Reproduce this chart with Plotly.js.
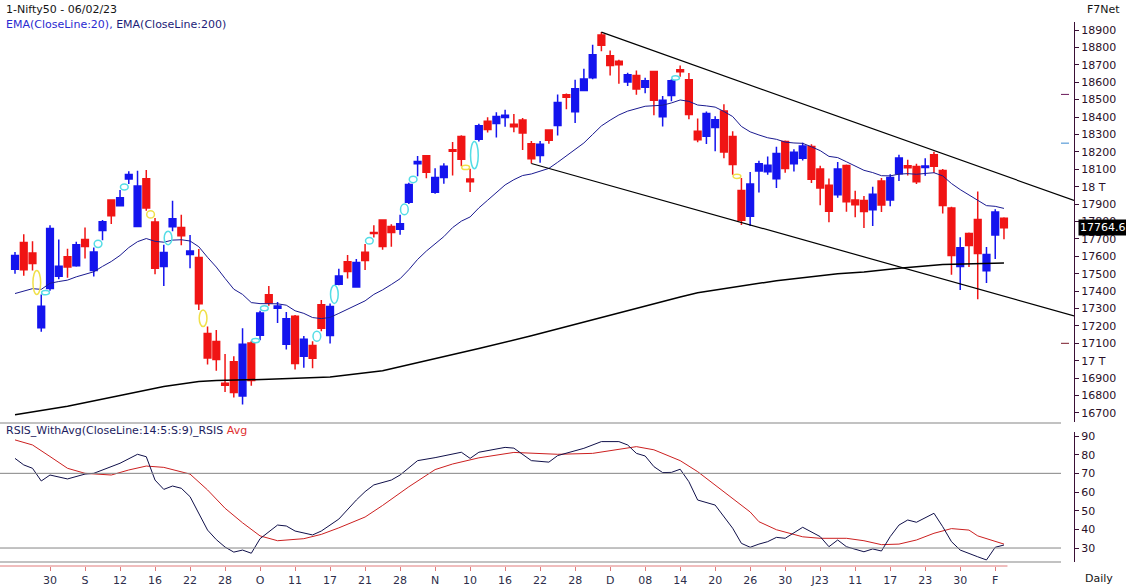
<!DOCTYPE html>
<html><head><meta charset="utf-8">
<script src="https://cdn.plot.ly/plotly-3.0.1.min.js"></script>
<style>html,body{margin:0;padding:0;background:#fff;}#chart{width:1126px;height:587px;}</style>
</head><body><div id="chart"></div>
<script>
// ---------------- DATA ----------------
const dates = ['2022-08-24','2022-08-25','2022-08-26','2022-08-29','2022-08-30',
'2022-09-01','2022-09-02','2022-09-05','2022-09-06','2022-09-07','2022-09-08','2022-09-09','2022-09-12','2022-09-13','2022-09-14','2022-09-15','2022-09-16','2022-09-19','2022-09-20','2022-09-21','2022-09-22','2022-09-23','2022-09-26','2022-09-27','2022-09-28','2022-09-29','2022-09-30',
'2022-10-03','2022-10-04','2022-10-06','2022-10-07','2022-10-10','2022-10-11','2022-10-12','2022-10-13','2022-10-14','2022-10-17','2022-10-18','2022-10-19','2022-10-20','2022-10-21','2022-10-24','2022-10-25','2022-10-27','2022-10-28','2022-10-31',
'2022-11-01','2022-11-02','2022-11-03','2022-11-04','2022-11-07','2022-11-09','2022-11-10','2022-11-11','2022-11-14','2022-11-15','2022-11-16','2022-11-17','2022-11-18','2022-11-21','2022-11-22','2022-11-23','2022-11-24','2022-11-25','2022-11-28','2022-11-29','2022-11-30',
'2022-12-01','2022-12-02','2022-12-05','2022-12-06','2022-12-07','2022-12-08','2022-12-09','2022-12-12','2022-12-13','2022-12-14','2022-12-15','2022-12-16','2022-12-19','2022-12-20','2022-12-21','2022-12-22','2022-12-23','2022-12-26','2022-12-27','2022-12-28','2022-12-29','2022-12-30',
'2023-01-02','2023-01-03','2023-01-04','2023-01-05','2023-01-06','2023-01-09','2023-01-10','2023-01-11','2023-01-12','2023-01-13','2023-01-16','2023-01-17','2023-01-18','2023-01-19','2023-01-20','2023-01-23','2023-01-24','2023-01-25','2023-01-27','2023-01-30','2023-01-31',
'2023-02-01','2023-02-02','2023-02-03','2023-02-06'];

const open = [17525,17679,17619,17189,17415,
17486,17598,17546,17696,17519,17748,17923,17891,18044,17771,18046,17797,17541,17770,17766,17610,17593,17156,17111,16871,16994,16798,
17102,17147,17379,17301,17094,17256,17026,17087,17322,17145,17439,17568,17423,17623,17736,17808,17771,17756,17910,
18131,18178,17968,18053,18212,18288,18044,18272,18376,18363,18398,18359,18383,18246,18179,18325,18351,18528,18431,18552,18626,
18872,18752,18720,18601,18639,18571,18662,18402,18524,18671,18614,18319,18289,18340,18435,18288,17978,17830,18090,18085,18046,18259,
18132,18163,18231,18102,18008,17953,18121,17924,17921,17868,18033,17923,18074,18120,18116,18110,18184,18093,17877,17542,17731,
17812,17517,17722,17819];

const high = [17625,17727,17686,17380,17778,
17696,17644,17683,17765,17651,17808,17926,17981,18088,18092,18096,17820,17667,17919,17839,17723,17642,17196,17176,17038,17026,17187,
17115,17287,17429,17337,17280,17262,17142,17112,17349,17329,17528,17608,17584,17670,17778,17812,17784,17839,18023,
18176,18179,18106,18135,18256,18296,18103,18362,18399,18428,18442,18418,18395,18262,18262,18325,18530,18535,18614,18678,18816,
18888,18782,18729,18655,18668,18625,18665,18521,18617,18696,18653,18392,18432,18405,18473,18319,18050,18084,18149,18173,18230,18265,
18215,18252,18243,18120,18047,18141,18128,17976,17946,17999,18050,18072,18184,18155,18132,18163,18201,18101,17885,17709,17736,
17972,17654,17870,17824];

const low = [17500,17488,17519,17166,17402,
17468,17476,17540,17588,17484,17692,17786,17889,18015,17771,17861,17497,17430,17744,17664,17532,17292,16978,16942,16820,16789,16748,
16856,17117,17316,17217,17065,16950,16960,16957,17170,17099,17434,17473,17421,17521,17708,17637,17655,17724,17900,
18060,18049,17959,18017,18064,18118,17969,18259,18311,18282,18344,18312,18210,18133,18138,18246,18294,18445,18366,18552,18617,
18778,18639,18591,18578,18528,18537,18410,18346,18490,18632,18388,18255,18245,18203,18163,18069,17780,17774,17967,18068,17993,18080,
18087,18150,18021,17893,17796,17936,17856,17824,17762,17774,17854,17887,18032,18064,18016,18063,18079,17846,17494,17406,17538,
17353,17446,17584,17698];

const close = [17605,17522,17559,17313,17759,
17543,17539,17666,17656,17624,17799,17833,17936,18070,18004,17877,17531,17622,17816,17718,17630,17327,17016,17007,16859,16818,17094,
16887,17274,17332,17315,17241,16984,17124,17014,17186,17312,17487,17512,17564,17576,17731,17656,17737,17787,18012,
18145,18083,18053,18117,18203,18157,18028,18350,18329,18403,18410,18344,18308,18160,18244,18267,18484,18513,18563,18618,18758,
18812,18696,18701,18643,18561,18609,18497,18497,18608,18660,18415,18269,18420,18385,18199,18127,17807,18015,18132,18123,18191,18105,
18197,18233,18043,17992,17859,18101,17914,17896,17858,17957,17895,18053,18165,18108,18028,18119,18118,17892,17604,17649,17662,
17616,17610,17854,17764.6];

// EMA(20) read per bar
const ema20 = [17386,17399,17414,17410,17445,
17455,17463,17482,17498,17511,17542,17570,17605,17650,17684,17702,17686,17681,17693,17695,17688,17655,17594,17538,17473,17411,17381,
17334,17328,17329,17327,17319,17287,17272,17248,17242,17249,17272,17295,17320,17344,17381,17407,17438,17471,17523,
17582,17630,17670,17713,17765,17802,17826,17878,17922,17968,18010,18040,18064,18073,18089,18105,18140,18176,18213,18251,18300,
18349,18382,18412,18434,18446,18462,18465,18468,18481,18498,18490,18469,18464,18457,18432,18403,18346,18315,18297,18281,18272,18256,
18251,18249,18229,18207,18174,18167,18143,18119,18094,18081,18063,18062,18072,18075,18071,18076,18080,18062,18018,17983,17952,
17920,17891,17887,17875];

// EMA(200) read at sample bars (bar number into dates)
const ema200Bar = [0,6,12,17,21,23,29,36,42,47,53,59,65,70,76,78,87,94,97,101,106,113];
const ema200Val = [16689,16738,16800,16852,16880,16887,16893,16907,16943,17000,17070,17143,17222,17290,17366,17390,17460,17500,17510,17532,17553,17562];

// Trend lines (bar number, value)
const upperTrendBar = [67, 121];
const upperTrendVal = [18888, 17921];
const lowerTrendBar = [59, 121];
const lowerTrendVal = [18133, 17258];

// RSI (smoothed) and its average, read at sample bars
const rsiBar = [0,1,2,3,4,6,8,9,12,14,15,16,17,18,19,20,22,23,24,25,26,27,28,30,31,32,34,35,37,39,40,41,43,44,46,48,51,52,53,56,57,59,61,62,65,67,69,70,71,72,73,74,75,76,77,78,80,81,82,83,84,85,86,87,88,90,92,93,94,95,97,98,99,100,101,102,103,105,106,107,108,110,111,112,113];
const rsiVal = [78.0,74.5,72.7,65.9,69.1,67.0,69.6,70.0,75.4,80.2,78.9,66.4,61.4,63.2,62.0,57.5,39.6,34.5,30.5,27.8,28.9,27.2,35.0,42.3,41.8,39.1,37.0,39.1,45.5,55.7,60.2,63.8,66.4,69.1,76.8,78.4,81.3,78.0,81.3,83.9,83.5,76.8,76.0,79.5,83.4,87.0,87.0,85.2,80.7,79.3,73.6,70.4,70.5,72.2,65.5,55.7,53.0,46.8,40.6,32.5,30.4,32.1,33.4,35.7,35.2,41.1,36.1,30.7,34.3,30.7,28.0,29.5,28.4,36.1,42.3,45.0,43.8,48.6,41.4,33.4,28.9,25.3,23.6,30.4,31.6];
const avgBar = [0,2,4,6,8,11,13,15,17,20,22,24,26,28,30,33,35,37,40,42,45,48,50,53,57,59,62,66,69,71,73,76,78,80,82,84,85,87,90,92,95,97,99,101,103,105,107,109,110,112,113];
const avgVal = [87.9,85.2,79.0,72.7,70.0,69.1,71.8,73.9,73.2,69.6,61.1,51.3,43.5,36.5,33.9,35.0,37.3,40.8,46.6,52.8,62.8,72.0,75.0,78.3,81.2,80.8,80.2,80.7,82.8,84.3,82.6,76.8,70.9,63.8,56.8,49.3,44.1,39.8,36.0,35.2,35.2,33.9,31.8,32.1,34.3,37.9,40.4,39.6,36.5,33.8,32.1];

// X tick labels
const tickDates = ['2022-08-30','2022-09-06','2022-09-12','2022-09-16','2022-09-22','2022-09-28','2022-10-04','2022-10-11','2022-10-17','2022-10-21','2022-10-28','2022-11-03','2022-11-10','2022-11-16','2022-11-22','2022-11-28','2022-12-02','2022-12-08','2022-12-14','2022-12-20','2022-12-26','2022-12-30','2023-01-05','2023-01-11','2023-01-17','2023-01-23','2023-01-30','2023-02-03'];
const tickLabels = ['30','S','12','16','22','28','O','11','17','21','28','N','10','16','22','28','D','08','14','20','26','30','J23','11','17','23','30','F'];

// Price axis labels
const priceTicks = [16700,16800,16900,17000,17100,17200,17300,17400,17500,17600,17700,17800,17900,18000,18100,18200,18300,18400,18500,18600,18700,18800,18900];
const priceTickText = ['16700','16800','16900','17 T','17100','17200','17300','17400','17500','17600','17700','17800','17900','18 T','18100','18200','18300','18400','18500','18600','18700','18800','18900'];
const rsiTicks = [30,40,50,60,70,80,90];
const rsiLevels = [70, 30];

// small marks at the price axis
const axisMarkVal = [18530, 18250, 17100];
const axisMarkCol = ['#6a1a5a', '#3a8ad0', '#7a1a2a'];

// ---------------- CHART ----------------
const H = 587, PR = 1074;
const py = p => 1 - p / H;
const px = p => p / PR;
const FONT = 'DejaVu Sans, Verdana, sans-serif';
const idx = dates.map((d, i) => i);
const last = dates.length - 1;
const X0 = -1.714, X1 = 121.0;

const traces = [
  {type:'candlestick', x: idx, open: open, high: high, low: low, close: close,
   xaxis:'x', yaxis:'y',
   increasing:{line:{color:'#1414ee', width:1.5}, fillcolor:'#1414ee'},
   decreasing:{line:{color:'#f01414', width:1.5}, fillcolor:'#f01414'},
   whiskerwidth:0, hoverinfo:'skip'},
  {type:'scatter', mode:'lines', x: ema200Bar, y: ema200Val, xaxis:'x', yaxis:'y',
   line:{color:'#000000', width:1.5}, hoverinfo:'skip'},
  {type:'scatter', mode:'lines', x: idx, y: ema20, xaxis:'x', yaxis:'y',
   line:{color:'#1a1a90', width:1}, hoverinfo:'skip'},
  {type:'scatter', mode:'lines', x: upperTrendBar, y: upperTrendVal, xaxis:'x', yaxis:'y',
   line:{color:'#000000', width:1.2}, hoverinfo:'skip'},
  {type:'scatter', mode:'lines', x: lowerTrendBar, y: lowerTrendVal, xaxis:'x', yaxis:'y',
   line:{color:'#000000', width:1.2}, hoverinfo:'skip'},
  {type:'scatter', mode:'lines', x: avgBar, y: avgVal, xaxis:'x2', yaxis:'y2',
   line:{color:'#cc2020', width:1}, hoverinfo:'skip'},
  {type:'scatter', mode:'lines', x: rsiBar, y: rsiVal, xaxis:'x2', yaxis:'y2',
   line:{color:'#10104a', width:1}, hoverinfo:'skip'}
];

const shapes = [];
const grey = '#858585';
shapes.push({type:'line', xref:'paper', yref:'paper', x0:0, x1:px(1061), y0:py(423), y1:py(423), line:{color:grey, width:1}});
shapes.push({type:'line', xref:'paper', yref:'paper', x0:0, x1:px(1061), y0:py(562), y1:py(562), line:{color:grey, width:1}});
rsiLevels.forEach(l => shapes.push({type:'line', xref:'paper', yref:'y2', x0:0, x1:px(1061), y0:l, y1:l, line:{color:grey, width:1}}));
shapes.push({type:'line', xref:'x', yref:'paper', x0:X0, x1:last + 0.4, y0:py(566), y1:py(566), line:{color:'#e07a7a', width:1}});
axisMarkVal.forEach((v, k) => shapes.push({type:'line', xref:'paper', yref:'y', x0:px(1061), x1:px(1069), y0:v, y1:v, line:{color:axisMarkCol[k], width:1}}));

// gap ellipses
for (let i = 1; i < dates.length; i++) {
  let lo = null, hi = null, col = null;
  if (low[i] > high[i-1]) { lo = high[i-1]; hi = low[i]; col = '#55dde6'; }
  else if (high[i] < low[i-1]) { lo = high[i]; hi = low[i-1]; col = '#f0e04a'; }
  if (col) {
    const mid = (lo + hi) / 2, half = Math.max((hi - lo) / 2, 12);
    shapes.push({type:'circle', xref:'x', yref:'y', x0:i - 0.95, x1:i - 0.07, y0:mid - half, y1:mid + half,
                 line:{color:col, width:1.5}, layer:'above'});
  }
}

const annotations = [
  {xref:'paper', yref:'paper', x:px(4), y:py(9), xanchor:'left', yanchor:'middle', showarrow:false,
   text:'1-Nifty50 - 06/02/23', font:{family:FONT, size:11, color:'#151515'}},
  {xref:'paper', yref:'paper', x:px(4), y:py(24), xanchor:'left', yanchor:'middle', showarrow:false,
   text:'<span style="color:#2a2ad0">EMA(CloseLine:20),</span> <span style="color:#1c1c78">EMA(CloseLine:200)</span>',
   font:{family:FONT, size:11, color:'#2a2ad0'}},
  {xref:'paper', yref:'paper', x:px(4), y:py(430), xanchor:'left', yanchor:'middle', showarrow:false,
   text:'<span style="color:#1c1c60">RSIS_WithAvg(CloseLine:14:5:S:9)_RSIS</span> <span style="color:#e03030">Avg</span>',
   font:{family:FONT, size:11, color:'#1c1c60'}},
  {xref:'paper', yref:'paper', x:px(1122), y:py(9), xanchor:'right', yanchor:'middle', showarrow:false,
   text:'F7Net', font:{family:FONT, size:11, color:'#151515'}},
  {xref:'paper', yref:'paper', x:px(1083), y:py(578), xanchor:'left', yanchor:'middle', showarrow:false,
   text:'Daily', font:{family:FONT, size:11, color:'#151515'}},
  {xref:'paper', yref:'y', x:px(1078), y:close[last], xanchor:'left', yanchor:'middle', showarrow:false,
   text:close[last].toFixed(1), bgcolor:'#000000', borderpad:1,
   font:{family:FONT, size:11, color:'#ffffff'}}
];

const axFont = {family:FONT, size:11, color:'#2a0f28'};
const layout = {
  width:1126, height:587,
  margin:{l:0, r:52, t:0, b:0, pad:0},
  paper_bgcolor:'#ffffff', plot_bgcolor:'#ffffff',
  showlegend:false, hovermode:false,
  boxgap:0.15, boxgroupgap:0.1,
  font:{family:FONT, size:11},
  xaxis:{domain:[0,1], range:[X0, X1], anchor:'y', showticklabels:false, showgrid:false, zeroline:false,
         showline:false, ticks:'', rangeslider:{visible:false}, fixedrange:true},
  xaxis2:{domain:[0,1], range:[X0, X1], anchor:'free', position:py(566), showgrid:false, zeroline:false,
          showline:false, ticks:'outside', ticklen:4, tickcolor:'#e07a7a', tickwidth:1,
          tickmode:'array', tickvals: tickDates.map(d => dates.indexOf(d)), ticktext: tickLabels,
          tickfont:{family:FONT, size:11, color:'#2d2d4a'}, fixedrange:true},
  yaxis:{domain:[py(422), py(22)], range:[16648, 18946], side:'right', anchor:'x',
         showline:true, linecolor:'#3a1035', linewidth:1, ticks:'outside', ticklen:4, tickcolor:'#3a1035',
         tickmode:'array', tickvals: priceTicks, ticktext: priceTickText, tickfont: axFont,
         showgrid:false, zeroline:false, fixedrange:true},
  yaxis2:{domain:[py(562), py(432)], range:[22.51, 92.14], side:'right', anchor:'x2',
          showline:true, linecolor:'#3a1035', linewidth:1, ticks:'outside', ticklen:4, tickcolor:'#3a1035',
          tickmode:'array', tickvals: rsiTicks, ticktext: rsiTicks.map(String), tickfont: axFont,
          showgrid:false, zeroline:false, fixedrange:true},
  shapes: shapes,
  annotations: annotations
};

Plotly.newPlot('chart', traces, layout, {staticPlot:true, displayModeBar:false});
</script>
</body></html>
